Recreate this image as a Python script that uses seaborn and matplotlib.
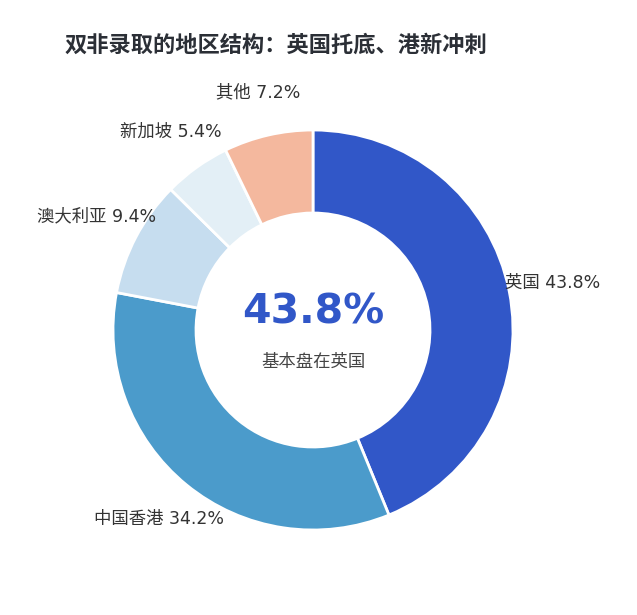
import matplotlib
matplotlib.use("Agg")
import matplotlib.pyplot as plt
import seaborn as sns

regions = ['英国', '中国香港', '澳大利亚', '新加坡', '其他']
shares = [43.8, 34.2, 9.4, 5.4, 7.2]
colors = ['#3157C8', '#4B9BCB', '#C6DDEF', '#E3EFF6', '#F4B89E']
title = '双非录取的地区结构：英国托底、港新冲刺'
center_value = '43.8%'
center_note = '基本盘在英国'

sns.set_theme(style='white')
plt.rcParams['font.family'] = ['DejaVu Sans', 'Noto Sans CJK SC']

fig = plt.figure(figsize=(6.37, 6.15), dpi=100)
ax = fig.add_axes([33 / 637, 5 / 615, 560 / 637, 560 / 615])

labels = [f'{r} {v:.1f}%' for r, v in zip(regions, shares)]
wedges, texts = ax.pie(shares, labels=labels, colors=colors, startangle=90,
                       counterclock=False, radius=1.0, labeldistance=1.22,
                       wedgeprops=dict(width=0.415, edgecolor='white', linewidth=2),
                       textprops=dict(fontsize=12.5, color='#333333'))
for t in texts:
    t.set_ha('center')
    t.set_va('center')

ax.text(0, 0.09, center_value, ha='center', va='center', fontsize=29.5,
        fontweight='bold', color='#3157C8')
ax.text(0, -0.16, center_note, ha='center', va='center', fontsize=12.5,
        color='#444444')

ax.set_xlim(-1.4, 1.4)
ax.set_ylim(-1.4, 1.4)
ax.set_aspect('equal')
ax.axis('off')

fig.text(65 / 637, 1 - 45 / 615, title, ha='left', va='center',
         fontsize=16, fontweight='bold', color='#2b2f36')

fig.savefig('out.png', dpi=100, facecolor='white')
